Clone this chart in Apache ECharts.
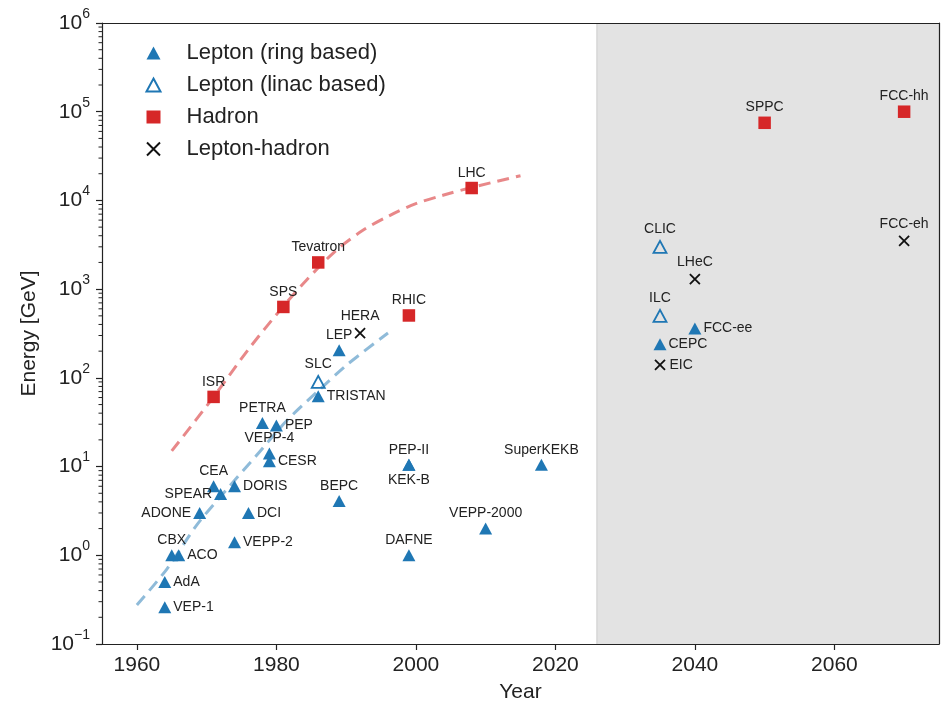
<!DOCTYPE html>
<html><head><meta charset="utf-8">
<script src="https://cdn.jsdelivr.net/npm/echarts@6/dist/echarts.min.js"></script>
<style>html,body{margin:0;padding:0;background:#fff}#c{width:943px;height:713px}</style>
</head><body><div id="c"></div>
<script>
// ---- data ----
const ringNames  = ['VEP-1','AdA','CBX','ACO','ADONE','CEA','SPEAR','DORIS','VEPP-2','DCI','PETRA','VEPP-4','CESR','PEP','TRISTAN','BEPC','LEP','PEP-II','KEK-B','DAFNE','VEPP-2000','SuperKEKB','CEPC','FCC-ee'];
const ringYears  = [1964,1964,1965,1966,1969,1971,1972,1974,1974,1976,1978,1979,1979,1980,1986,1989,1989,1999,1999,1999,2010,2018,2035,2040];
const ringEnergy = [0.26,0.5,1.0,1.0,3.0,6.0,4.9,6.0,1.4,3.0,31,14,11.5,29,62,4.1,205,10.5,10.5,1.0,2.0,10.5,240,360];

const linacNames  = ['SLC','ILC','CLIC'];
const linacYears  = [1986,2035,2035];
const linacEnergy = [90,500,3000];

const hadronNames  = ['ISR','SPS','Tevatron','RHIC','LHC','SPPC','FCC-hh'];
const hadronYears  = [1971,1981,1986,1999,2008,2050,2070];
const hadronEnergy = [61,630,2000,505,13800,75000,100000];

const lhNames  = ['HERA','EIC','LHeC','FCC-eh'];
const lhYears  = [1992,2035,2040,2070];
const lhEnergy = [320,140,1300,3500];

// trend curves
const hadronTrendYears  = [1965,1971,1976,1981,1984.3,1988.6,1992.4,1996.3,2000,2004,2008,2015];
const hadronTrendEnergy = [15,61,210,640,1260,2750,4600,6800,9200,11500,14000,19000];
const leptonTrendYears  = [1960,1964.3,1968.6,1972.4,1977.2,1981.5,1986.3,1990.1,1996];
const leptonTrendEnergy = [0.275,0.7,2.2,5.0,13.5,33,75,140,320];

const futureStart = 2026;
const xTicks = [1960,1980,2000,2020,2040,2060];

// ---- styling ----
const FONT = 'Liberation Sans, Arial, sans-serif';
const TXT = '#222';
const BLUE = '#1f77b4', RED = '#d62728';
const labelPos = {'VEP-1':'right','AdA':'right','ACO':'right','ADONE':'left','SPEAR':'left','DORIS':'right','DCI':'right',
  'VEPP-2':'right','PEP':'right','CESR':'right','TRISTAN':'right','KEK-B':'bottom','FCC-ee':'right','CEPC':'right','EIC':'right'};

function pts(names, years, vals) {
  return names.map((n, i) => ({
    name: n, value: [years[i], vals[i]],
    label: { position: labelPos[n] || 'top', distance: 2 }
  }));
}
function pairs(xs, ys) { return xs.map((x, i) => [x, ys[i]]); }

const yMinor = [];
for (let e = -1; e <= 5; e++) for (let m = 2; m <= 9; m++) yMinor.push(m * Math.pow(10, e));

const pointLabel = { show: true, formatter: '{b}', fontSize: 14, color: TXT, fontFamily: FONT };
const axisLineStyle = { color: TXT, width: 1.2 };

const chart = echarts.init(document.getElementById('c'), null, { renderer: 'canvas' });
chart.setOption({
  animation: false,
  backgroundColor: '#fff',
  grid: { left: 102, right: 4, top: 23, bottom: 69 },
  legend: {
    data: ['Lepton (ring based)', 'Lepton (linac based)', 'Hadron', 'Lepton-hadron'],
    orient: 'vertical', left: 139, top: 37,
    itemWidth: 14, itemHeight: 13, itemGap: 10, symbolKeepAspect: true,
    textStyle: { fontSize: 22, color: TXT, fontFamily: FONT, lineHeight: 22, padding: [0, 0, 0, 21] }
  },
  xAxis: [{
    type: 'value', min: 1955, max: 2075, z: 10,
    axisLine: { show: true, onZero: false, lineStyle: axisLineStyle },
    axisTick: { show: true, length: 6, customValues: xTicks, lineStyle: axisLineStyle },
    axisLabel: { customValues: xTicks, fontSize: 21, margin: 11, color: TXT, fontFamily: FONT,
      formatter: v => String(Math.round(v)) },
    splitLine: { show: false },
    name: 'Year', nameLocation: 'middle', nameGap: 38,
    nameTextStyle: { fontSize: 21, color: TXT, fontFamily: FONT }
  }, {
    type: 'value', position: 'top', min: 1955, max: 2075, z: 10,
    axisLine: { show: true, onZero: false, lineStyle: axisLineStyle },
    axisTick: { show: false }, axisLabel: { show: false }, splitLine: { show: false }
  }],
  yAxis: [{
    type: 'log', logBase: 10, min: 0.1, max: 1e6, splitNumber: 7, z: 10,
    axisLine: { show: true, onZero: false, lineStyle: axisLineStyle },
    axisTick: { show: true, length: 6, lineStyle: axisLineStyle },
    axisLabel: {
      margin: 12, color: TXT, fontFamily: FONT,
      formatter: v => {
        const n = Math.round(Math.log10(v));
        return '{b|10}{s|' + (n < 0 ? '\u2212' + (-n) : n) + '}';
      },
      rich: {
        b: { fontSize: 21, lineHeight: 32, color: TXT, fontFamily: FONT, verticalAlign: 'middle' },
        s: { fontSize: 14, lineHeight: 14, color: TXT, fontFamily: FONT, verticalAlign: 'top' }
      }
    },
    splitLine: { show: false },
    name: 'Energy [GeV]', nameLocation: 'middle', nameGap: 58,
    nameTextStyle: { fontSize: 21, color: TXT, fontFamily: FONT }
  }, {
    type: 'log', logBase: 10, min: 0.1, max: 1e6, position: 'right', z: 10,
    axisLine: { show: true, onZero: false, lineStyle: axisLineStyle },
    axisTick: { show: false }, axisLabel: { show: false }, splitLine: { show: false }
  }],
  series: [
    {
      name: 'future', type: 'scatter', data: [], silent: true, z: 0,
      markArea: { silent: true, itemStyle: { color: '#e3e3e3', borderWidth: 0 },
        data: [[{ xAxis: futureStart }, { xAxis: 2075 }]] },
      markLine: { silent: true, symbol: 'none', label: { show: false },
        lineStyle: { color: '#d4d4d4', width: 1.5, type: 'solid' },
        data: [{ xAxis: futureStart }] }
    },
    {
      name: 'minor', type: 'custom', silent: true, z: 11,
      data: yMinor.map(v => [1955, v]),
      encode: { x: 0, y: 1 },
      renderItem: (params, api) => {
        const p = api.coord([api.value(0), api.value(1)]);
        return { type: 'line', shape: { x1: p[0] - 3.5, y1: p[1], x2: p[0], y2: p[1] },
          style: { stroke: TXT, lineWidth: 1 } };
      }
    },
    {
      name: 'hadronTrend', type: 'line', smooth: 0.3, showSymbol: false, silent: true, z: 1,
      data: pairs(hadronTrendYears, hadronTrendEnergy),
      lineStyle: { color: 'rgba(214,39,40,0.55)', width: 3, type: [12, 7] }
    },
    {
      name: 'leptonTrend', type: 'line', smooth: 0.3, showSymbol: false, silent: true, z: 1,
      data: pairs(leptonTrendYears, leptonTrendEnergy),
      lineStyle: { color: 'rgba(31,119,180,0.5)', width: 3, type: [12, 7] }
    },
    {
      name: 'Lepton (ring based)', type: 'scatter', symbol: 'triangle', symbolSize: [13, 12], z: 3,
      itemStyle: { color: BLUE, opacity: 1 }, label: pointLabel,
      data: pts(ringNames, ringYears, ringEnergy)
    },
    {
      name: 'Lepton (linac based)', type: 'scatter', symbol: 'triangle', symbolSize: [13, 12], z: 3,
      itemStyle: { color: 'none', borderColor: BLUE, borderWidth: 1.8, opacity: 1 }, label: pointLabel,
      data: pts(linacNames, linacYears, linacEnergy)
    },
    {
      name: 'Hadron', type: 'scatter', symbol: 'rect', symbolSize: 12.5, z: 3,
      itemStyle: { color: RED, opacity: 1 }, label: pointLabel,
      data: pts(hadronNames, hadronYears, hadronEnergy)
    },
    {
      name: 'Lepton-hadron', type: 'scatter', symbol: 'path://M0,0L10,10M0,10L10,0', symbolSize: 10, z: 3,
      itemStyle: { color: 'none', borderColor: '#111', borderWidth: 1.8, opacity: 1 }, label: pointLabel,
      data: pts(lhNames, lhYears, lhEnergy)
    }
  ]
});
</script>
</body></html>
